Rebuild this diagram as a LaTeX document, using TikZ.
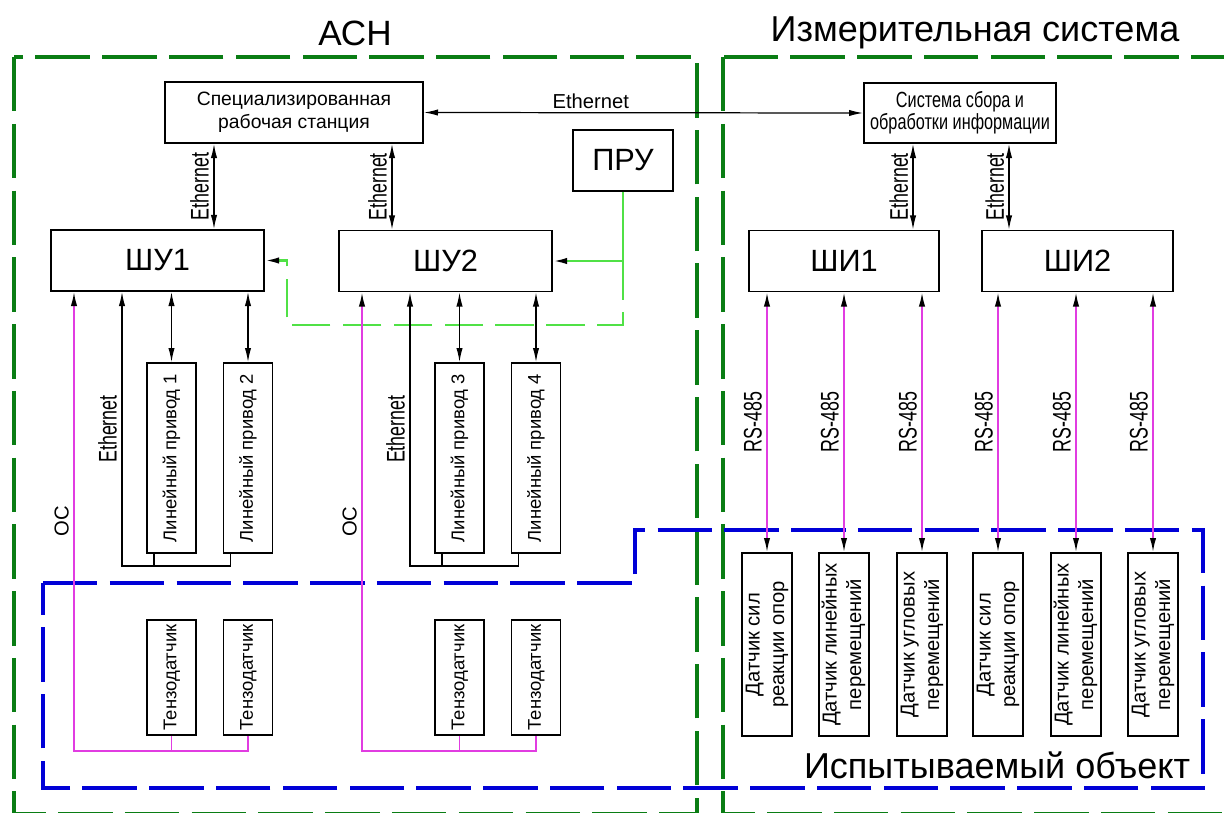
\documentclass[tikz,border=0pt]{standalone}
\usepackage{fontspec}
\usepackage{graphicx}
\setmainfont{Liberation Sans}
\usetikzlibrary{arrows.meta}

\definecolor{asngreen}{RGB}{10,125,20}
\definecolor{prugreen}{RGB}{80,225,70}
\definecolor{osmag}{RGB}{225,60,225}
\definecolor{objblue}{RGB}{0,0,215}

\newcommand{\narrow}[2][0.7]{{\addfontfeature{FakeStretch=#1}#2}}
\newcommand{\vtext}[1]{\rotatebox{90}{\begin{tabular}{@{}c@{}}#1\end{tabular}}}

\begin{document}
\begin{tikzpicture}[x=0.02cm, y=-0.02cm,
  >={Latex[length=8pt,width=3.6pt]},
  box/.style={draw, line width=1.1pt, inner sep=0pt, align=center},
  vbox/.style={box, minimum width=0.98cm, font=\fontsize{10.5}{14}\selectfont},
  sbox/.style={box, minimum width=1cm, minimum height=3.66cm, font=\fontsize{11.5}{14}\selectfont},
  bigbox/.style={box, minimum height=1.22cm, font=\fontsize{17.5}{20}\selectfont},
  title/.style={font=\fontsize{20}{24}\selectfont},
  lbl/.style={midway, rotate=90, anchor=south, inner sep=2.5pt, font=\fontsize{14.5}{16}\selectfont},
  link/.style={line width=0.7pt},
  osline/.style={draw=osmag, line width=0.9pt, >={Latex[length=8pt,width=3.6pt,color=black]}},
  prusolid/.style={draw=prugreen, line width=1.2pt, >={Latex[length=8pt,width=3.6pt,color=black]}},
  prudash/.style={prusolid, dash pattern=on 22pt off 7pt},
  asnframe/.style={draw=asngreen, line width=2.3pt, dash pattern=on 31pt off 7pt},
  objframe/.style={draw=objblue, line width=2.3pt, dash pattern=on 31pt off 7pt}]
  \useasboundingbox (0,0) rectangle (1224,812);
  \clip (0,0) rectangle (1224,812);

  % frames
  \draw[asnframe] (14,57) rectangle (697,814);
  \draw[asnframe] (723,57) rectangle (1262,814);
  \draw[objframe] (43,583) -- (635,583) -- (635,530) -- (1203,530) -- (1203,788) -- (43,788) -- cycle;

  % titles
  \node[title] (asn) at (355,33) {АСН};
  \node[title, font=\fontsize{20.5}{24}\selectfont] (ims) at (975,33) {Измерительная система};
  \node[title, font=\fontsize{20.5}{24}\selectfont] (obj) at (997,765) {Испытываемый объект};

  % upper level
  \node[box, minimum width=5.16cm, minimum height=1.22cm, font=\fontsize{11}{13}\selectfont] (st) at (294,112.5) {Специализированная\\рабочая станция};
  \node[box, minimum width=3.84cm, minimum height=1.2cm, font=\fontsize{12.5}{12.5}\selectfont] (sys) at (960,113) {\narrow[0.74]{Система сбора и}\\\narrow[0.74]{обработки информации}};
  \node[bigbox, minimum width=2cm] (pru) at (623,160.5) {ПРУ};
  \node[bigbox, minimum width=4.26cm] (shu1) at (157.5,260.5) {ШУ1};
  \node[bigbox, minimum width=4.26cm] (shu2) at (445.5,261) {ШУ2};
  \node[bigbox, minimum width=3.8cm] (shi1) at (844,261) {ШИ1};
  \node[bigbox, minimum width=3.82cm] (shi2) at (1077.5,261) {ШИ2};

  % Ethernet links
  \draw[link,<->] (st.east) -- node[pos=0.38, above, inner sep=2pt, font=\fontsize{11.5}{13}\selectfont] {Ethernet} (sys.west);
  \coordinate (x1) at (214,0);
  \coordinate (x2) at (392,0);
  \coordinate (x3) at (913,0);
  \coordinate (x4) at (1009,0);
  \draw[link,<->] (x1 |- st.south) -- node[lbl] {\narrow{Ethernet}} (x1 |- shu1.north);
  \draw[link,<->] (x2 |- st.south) -- node[lbl] {\narrow{Ethernet}} (x2 |- shu2.north);
  \draw[link,<->] (x3 |- sys.south) -- node[lbl] {\narrow{Ethernet}} (x3 |- shi1.north);
  \draw[link,<->] (x4 |- sys.south) -- node[lbl] {\narrow{Ethernet}} (x4 |- shi2.north);

  % remote control
  \coordinate (pj) at (pru.south |- shu2.east);
  \coordinate (pl) at (287,325);
  \draw[prusolid,->] (pru.south) |- (shu2.east);
  \draw[prudash,->] (pj) |- (pl) |- (shu1.east);

  % drives and strain gauges
  \foreach \g/\dx/\a/\b in {1/0/1/2, 2/288/3/4} {
    \node[vbox, minimum height=3.8cm] (pr\a) at (171.5+\dx,458) {\vtext{Линейный привод \a}};
    \node[vbox, minimum height=3.8cm] (pr\b) at (248+\dx,458) {\vtext{Линейный привод \b}};
    \node[vbox, minimum height=2.3cm] (tz\a) at (171.5+\dx,677.5) {\vtext{Тензодатчик}};
    \node[vbox, minimum height=2.3cm] (tz\b) at (248+\dx,677.5) {\vtext{Тензодатчик}};
    \draw[link,<->] (pr\a.north) -- (pr\a.north |- shu\g.south);
    \draw[link,<->] (pr\b.north) -- (pr\b.north |- shu\g.south);
    \coordinate (e\g) at (122+\dx,566);
    \coordinate (la\g) at ([xshift=-0.35cm]pr\a.south);
    \coordinate (lb\g) at ([xshift=-0.35cm]pr\b.south);
    \draw[link] (la\g) -- (la\g |- e\g);
    \draw[link,->] (lb\g) |- (e\g) -- node[lbl] {\narrow{Ethernet}} (e\g |- shu\g.south);
    \coordinate (o\g) at (74+\dx,751);
    \draw[osline] (tz\a.south) -- (tz\a.south |- o\g);
    \draw[osline,->] (tz\b.south) |- (o\g) -- node[lbl, font=\fontsize{11.5}{14}\selectfont] {ОС} (o\g |- shu\g.south);
  }

  % sensors of the test object
  \foreach \i/\xc/\hub/\txt in {
    1/767/shi1/{Датчик сил\\реакции опор},
    2/844/shi1/{Датчик линейных\\перемещений},
    3/922/shi1/{Датчик угловых\\перемещений},
    4/998/shi2/{Датчик сил\\реакции опор},
    5/1076/shi2/{Датчик линейных\\перемещений},
    6/1153/shi2/{Датчик угловых\\перемещений}} {
    \node[sbox] (s\i) at (\xc,644.5) {\vtext{\txt}};
    \draw[osline,<->] (s\i.north) -- node[lbl] {\narrow{RS-485}} (s\i.north |- \hub.south);
  }
\end{tikzpicture}
\end{document}
